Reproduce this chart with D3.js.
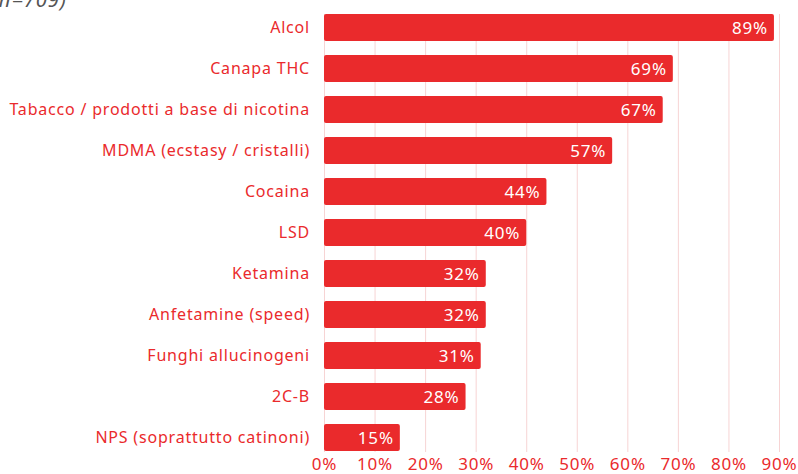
<!DOCTYPE html>
<html>
<head>
<meta charset="utf-8">
<script src="https://cdn.jsdelivr.net/npm/d3@7"></script>
<style>
  html, body { margin: 0; padding: 0; background: #fff; overflow: hidden; }
  svg { display: block; font-family: "Noto Sans", Roboto, sans-serif; }
</style>
</head>
<body>
<svg id="chart" width="798" height="474"></svg>
<script>
// Chart data
const categories = [
  "Alcol",
  "Canapa THC",
  "Tabacco / prodotti a base di nicotina",
  "MDMA (ecstasy / cristalli)",
  "Cocaina",
  "LSD",
  "Ketamina",
  "Anfetamine (speed)",
  "Funghi allucinogeni",
  "2C-B",
  "NPS (soprattutto catinoni)"
];
const values = [89, 69, 67, 57, 44, 40, 32, 32, 31, 28, 15];
const tickValues = [0, 10, 20, 30, 40, 50, 60, 70, 80, 90];
const subtitle = "(n=709)";

const RED = "#ea2a2c";

const svg = d3.select("#chart");

const x = d3.scaleLinear().domain([0, 90]).range([324, 779]);
const y = d3.scaleBand()
  .domain(categories)
  .range([7, 458])
  .paddingInner(0.34)
  .paddingOuter(0.17);

// Cut-off subtitle at the top
svg.append("text")
  .attr("x", -8)
  .attr("y", 7)
  .attr("fill", "#555")
  .style("font-size", "20px")
  .style("font-style", "italic")
  .style("letter-spacing", "1px")
  .text(subtitle);

// Vertical gridlines
svg.append("g")
  .selectAll("line")
  .data(tickValues)
  .join("line")
  .attr("x1", d => x(d) + 0.5)
  .attr("x2", d => x(d) + 0.5)
  .attr("y1", y(categories[0]))
  .attr("y2", 452)
  .attr("stroke", "#f7d4d4")
  .attr("stroke-width", 1);

// Bars
svg.append("g")
  .selectAll("rect")
  .data(values)
  .join("rect")
  .attr("x", x(0))
  .attr("y", (d, i) => y(categories[i]))
  .attr("width", d => x(d) - x(0))
  .attr("height", y.bandwidth())
  .attr("rx", 2)
  .attr("fill", RED);

// Value labels inside bars
svg.append("g")
  .selectAll("text")
  .data(values)
  .join("text")
  .attr("x", d => x(d) - 6)
  .attr("y", (d, i) => y(categories[i]) + y.bandwidth() / 2)
  .attr("dy", "0.36em")
  .attr("text-anchor", "end")
  .attr("fill", "#fff")
  .style("font-size", "17px")
  .style("letter-spacing", "0.8px")
  .text(d => d + "%");

// Category labels
svg.append("g")
  .selectAll("text")
  .data(categories)
  .join("text")
  .attr("x", 310)
  .attr("y", d => y(d) + y.bandwidth() / 2)
  .attr("dy", "0.36em")
  .attr("text-anchor", "end")
  .attr("fill", RED)
  .style("font-size", "16px")
  .style("letter-spacing", "0.8px")
  .text(d => d);

// X axis
const xAxis = d3.axisBottom(x)
  .tickValues(tickValues)
  .tickFormat(d => d + "%")
  .tickSize(0)
  .tickPadding(0);

const gx = svg.append("g")
  .attr("transform", "translate(0,454)")
  .call(xAxis);
gx.select(".domain").remove();
gx.selectAll("text")
  .attr("fill", RED)
  .attr("dy", "0.95em")
  .style("font-size", "17px")
  .style("letter-spacing", "0.8px")
  .style("font-family", "\"Noto Sans\", Roboto, sans-serif");
</script>
</body>
</html>
